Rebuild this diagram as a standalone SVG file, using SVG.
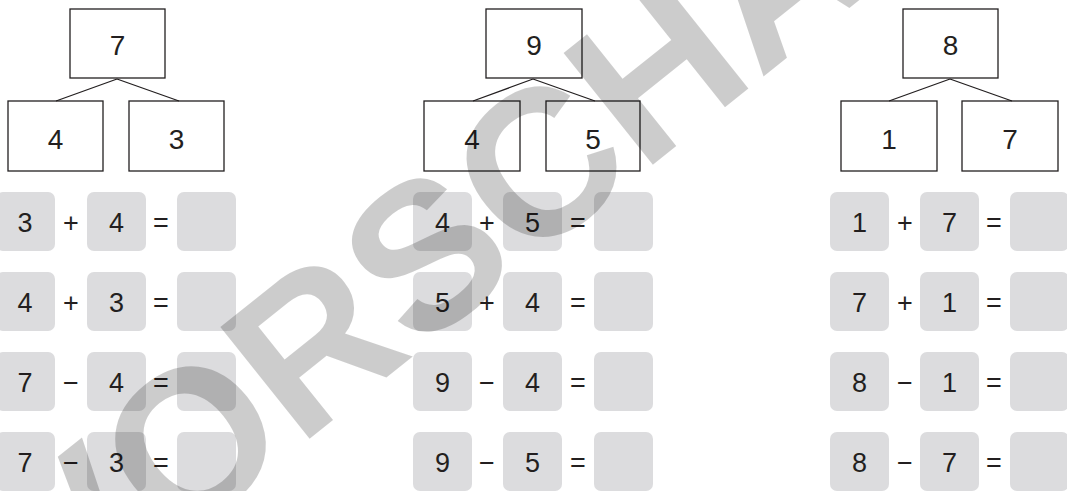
<svg xmlns="http://www.w3.org/2000/svg" width="1067" height="491" viewBox="0 0 1067 491">
<style>
.tb{fill:none;stroke:#231f20;stroke-width:1.3}
.ln{stroke:#231f20;stroke-width:1.3;fill:none}
.t{font-family:"Liberation Sans",Arial,sans-serif;font-size:28px;fill:#231f20;text-anchor:middle}
.e{font-family:"Liberation Sans",Arial,sans-serif;font-size:27px;fill:#231f20;text-anchor:middle}
.g{fill:#dcdcde}
.wm{font-family:"Liberation Sans",Arial,sans-serif;font-weight:bold;font-size:208px;fill:#000;fill-opacity:0.2}
</style>
<rect width="1067" height="491" fill="#fff"/>
<g id="connectors">
<path class="ln" d="M117 79 L56 101 M117 79 L179 101"/>
<path class="ln" d="M533 79 L473 101 M533 79 L595 101"/>
<path class="ln" d="M950 79 L889 101 M950 79 L1012 101"/>
</g>
<g id="tree1">
<g id="n1-top"><rect class="tb" x="70" y="9" width="95" height="69"/><text class="t" x="117.5" y="55">7</text></g>
<g id="n1-left"><rect class="tb" x="8" y="101" width="95" height="70"/><text class="t" x="55.5" y="149">4</text></g>
<g id="n1-right"><rect class="tb" x="129" y="101" width="95" height="70"/><text class="t" x="176.5" y="149">3</text></g>
</g>
<g id="tree2">
<g id="n2-top"><rect class="tb" x="486" y="9" width="96" height="69"/><text class="t" x="534" y="55">9</text></g>
<g id="n2-left"><rect class="tb" x="424" y="101" width="96" height="70"/><text class="t" x="472" y="149">4</text></g>
<g id="n2-right"><rect class="tb" x="546" y="101" width="94" height="70"/><text class="t" x="593" y="149">5</text></g>
</g>
<g id="tree3">
<g id="n3-top"><rect class="tb" x="903" y="9" width="95" height="69"/><text class="t" x="950.5" y="55">8</text></g>
<g id="n3-left"><rect class="tb" x="841" y="101" width="96" height="70"/><text class="t" x="889" y="149">1</text></g>
<g id="n3-right"><rect class="tb" x="962" y="101" width="96" height="70"/><text class="t" x="1010" y="149">7</text></g>
</g>
<g id="eq1">
<g id="eq1-1"><rect class="g" x="-4" y="192" width="59" height="59" rx="7"/><text class="e" x="25" y="232">3</text><text class="e" x="71" y="232">+</text><rect class="g" x="87" y="192" width="59" height="59" rx="7"/><text class="e" x="116.5" y="232">4</text><text class="e" x="161" y="232">=</text><rect class="g" x="177" y="192" width="59" height="59" rx="7"/></g>
<g id="eq1-2"><rect class="g" x="-4" y="272" width="59" height="59" rx="7"/><text class="e" x="25" y="312">4</text><text class="e" x="71" y="312">+</text><rect class="g" x="87" y="272" width="59" height="59" rx="7"/><text class="e" x="116.5" y="312">3</text><text class="e" x="161" y="312">=</text><rect class="g" x="177" y="272" width="59" height="59" rx="7"/></g>
<g id="eq1-3"><rect class="g" x="-4" y="352" width="59" height="59" rx="7"/><text class="e" x="25" y="392">7</text><text class="e" x="71" y="392">−</text><rect class="g" x="87" y="352" width="59" height="59" rx="7"/><text class="e" x="116.5" y="392">4</text><text class="e" x="161" y="392">=</text><rect class="g" x="177" y="352" width="59" height="59" rx="7"/></g>
<g id="eq1-4"><rect class="g" x="-4" y="432" width="59" height="59" rx="7"/><text class="e" x="25" y="472">7</text><text class="e" x="71" y="472">−</text><rect class="g" x="87" y="432" width="59" height="59" rx="7"/><text class="e" x="116.5" y="472">3</text><text class="e" x="161" y="472">=</text><rect class="g" x="177" y="432" width="59" height="59" rx="7"/></g>
</g>
<g id="eq2">
<g id="eq2-1"><rect class="g" x="413" y="192" width="59" height="59" rx="7"/><text class="e" x="442.5" y="232">4</text><text class="e" x="487" y="232">+</text><rect class="g" x="503" y="192" width="59" height="59" rx="7"/><text class="e" x="532.5" y="232">5</text><text class="e" x="578" y="232">=</text><rect class="g" x="594" y="192" width="59" height="59" rx="7"/></g>
<g id="eq2-2"><rect class="g" x="413" y="272" width="59" height="59" rx="7"/><text class="e" x="442.5" y="312">5</text><text class="e" x="487" y="312">+</text><rect class="g" x="503" y="272" width="59" height="59" rx="7"/><text class="e" x="532.5" y="312">4</text><text class="e" x="578" y="312">=</text><rect class="g" x="594" y="272" width="59" height="59" rx="7"/></g>
<g id="eq2-3"><rect class="g" x="413" y="352" width="59" height="59" rx="7"/><text class="e" x="442.5" y="392">9</text><text class="e" x="487" y="392">−</text><rect class="g" x="503" y="352" width="59" height="59" rx="7"/><text class="e" x="532.5" y="392">4</text><text class="e" x="578" y="392">=</text><rect class="g" x="594" y="352" width="59" height="59" rx="7"/></g>
<g id="eq2-4"><rect class="g" x="413" y="432" width="59" height="59" rx="7"/><text class="e" x="442.5" y="472">9</text><text class="e" x="487" y="472">−</text><rect class="g" x="503" y="432" width="59" height="59" rx="7"/><text class="e" x="532.5" y="472">5</text><text class="e" x="578" y="472">=</text><rect class="g" x="594" y="432" width="59" height="59" rx="7"/></g>
</g>
<g id="eq3">
<g id="eq3-1"><rect class="g" x="830" y="192" width="59" height="59" rx="7"/><text class="e" x="859.5" y="232">1</text><text class="e" x="905" y="232">+</text><rect class="g" x="920" y="192" width="59" height="59" rx="7"/><text class="e" x="949.5" y="232">7</text><text class="e" x="994" y="232">=</text><rect class="g" x="1010" y="192" width="59" height="59" rx="7"/></g>
<g id="eq3-2"><rect class="g" x="830" y="272" width="59" height="59" rx="7"/><text class="e" x="859.5" y="312">7</text><text class="e" x="905" y="312">+</text><rect class="g" x="920" y="272" width="59" height="59" rx="7"/><text class="e" x="949.5" y="312">1</text><text class="e" x="994" y="312">=</text><rect class="g" x="1010" y="272" width="59" height="59" rx="7"/></g>
<g id="eq3-3"><rect class="g" x="830" y="352" width="59" height="59" rx="7"/><text class="e" x="859.5" y="392">8</text><text class="e" x="905" y="392">−</text><rect class="g" x="920" y="352" width="59" height="59" rx="7"/><text class="e" x="949.5" y="392">1</text><text class="e" x="994" y="392">=</text><rect class="g" x="1010" y="352" width="59" height="59" rx="7"/></g>
<g id="eq3-4"><rect class="g" x="830" y="432" width="59" height="59" rx="7"/><text class="e" x="859.5" y="472">8</text><text class="e" x="905" y="472">−</text><rect class="g" x="920" y="432" width="59" height="59" rx="7"/><text class="e" x="949.5" y="472">7</text><text class="e" x="994" y="472">=</text><rect class="g" x="1010" y="432" width="59" height="59" rx="7"/></g>
</g>
<g id="watermark">
<text class="wm" transform="translate(64 635) rotate(-38.6)" x="0" y="0">VORSCHAU</text>
</g>
</svg>
